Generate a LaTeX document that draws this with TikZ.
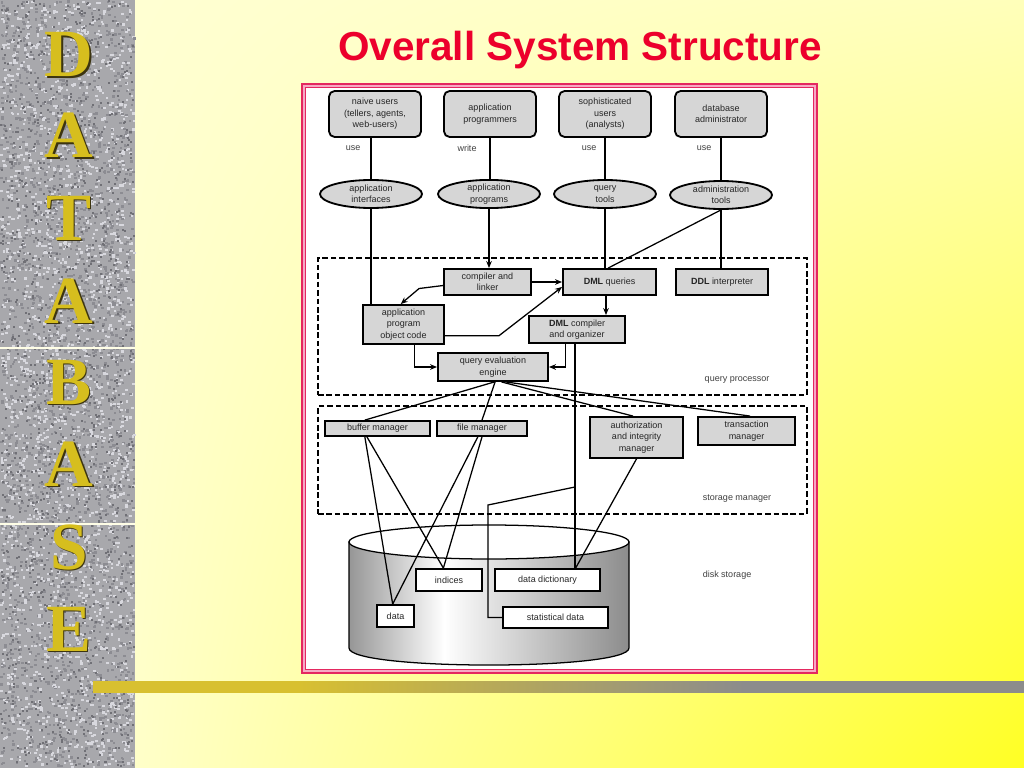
\documentclass[tikz,border=0pt]{standalone}
\usepackage{fontspec}
\setmainfont{Liberation Sans}
\newfontfamily\letterfont{Liberation Serif}
\usetikzlibrary{arrows.meta,shapes.geometric,shadings}

\definecolor{boxgray}{RGB}{214,214,214}
\definecolor{titlered}{RGB}{236,0,44}
\definecolor{framered}{RGB}{228,40,96}
\definecolor{framepink}{RGB}{246,170,196}
\definecolor{lettergold}{RGB}{214,190,30}
\definecolor{lettershade}{RGB}{60,52,16}
\definecolor{granite}{RGB}{168,168,172}
\definecolor{granitedark}{RGB}{112,112,118}
\definecolor{granitemid}{RGB}{140,140,146}
\definecolor{granitelight}{RGB}{216,216,222}
\definecolor{bargold}{RGB}{216,192,48}
\definecolor{bargray}{RGB}{140,140,140}
\definecolor{diskdark}{RGB}{150,150,150}
\definecolor{diskedge}{RGB}{140,140,140}
\definecolor{bgul}{RGB}{255,255,214}
\definecolor{bgur}{RGB}{255,255,186}
\definecolor{bgll}{RGB}{255,255,226}
\definecolor{bglr}{RGB}{255,255,36}

\pgfdeclarehorizontalshading{diskshade}{100bp}{color(0bp)=(diskdark); color(25bp)=(diskdark); color(42bp)=(white); color(75bp)=(diskedge); color(100bp)=(diskedge)}
\pgfdeclarehorizontalshading{barshade}{100bp}{color(0bp)=(bargold); color(36bp)=(bargold); color(60bp)=(bargray); color(100bp)=(bargray)}

\newcommand{\diag}{\fontsize{6.4}{8.2}\selectfont}

\begin{document}
\begin{tikzpicture}[x=0.025cm, y=-0.025cm,
  box/.style={draw, line width=1.3pt, fill=boxgray, align=center,
              font=\diag, text=black!85, inner sep=1pt},
  user/.style={box, rounded corners=4pt},
  tool/.style={box, ellipse, inner sep=0pt},
  store/.style={box, fill=white},
  region/.style={draw, line width=0.9pt, dash pattern=on 4pt off 2pt,
                 minimum width=12.225cm},
  lbl/.style={font=\diag, text=black!75},
  letter/.style={font=\letterfont\fontsize{48}{48}\selectfont\bfseries, anchor=base},
  line/.style={line width=0.9pt},
  arr/.style={line, -{Stealth[length=5pt, width=4pt]}}
]
\useasboundingbox (0,0) rectangle (1024,768);

% Slide background
\shade[upper left=bgul, upper right=bgur, lower left=bgll, lower right=bglr]
  (0,0) rectangle (1024,768);

% Granite strip
\fill[granite] (0,0) rectangle (135,768);
\pgfmathsetseed{11}
\foreach \i in {1,...,2200} {
  \fill[granitemid] ({rnd*133},{rnd*766}) rectangle ++(2.6,2.2);
  \fill[granitelight] ({rnd*133},{rnd*766}) rectangle ++(2.6,2.2);
}
\foreach \i in {1,...,1200} {
  \fill[granitedark] ({rnd*133},{rnd*766}) rectangle ++(2,2);
}
\draw[white!90!yellow, line width=0.8pt] (0,348) -- (135,348);
\draw[white!90!yellow, line width=0.8pt] (0,524) -- (135,524);

\foreach \ch/\yb [count=\i] in {D/77, A/158, T/240, A/323, B/404, A/486, S/569, E/651} {
  \node[letter, text=lettershade] at (70.5,\yb+1.5) (shadow\i) {\ch};
  \node[letter, text=lettergold] at (69,\yb) (letter\i) {\ch};
}

% Bottom bar
\shade[shading=barshade] (93,681) rectangle (1024,692);

% Title
\node[font=\fontsize{28.8}{34}\selectfont\bfseries, text=titlered, anchor=base]
  at (580,61) (title) {Overall System Structure};

% Frame
\filldraw[draw=framered, fill=framepink, line width=1.2pt] (302,84) rectangle (817,673);
\filldraw[draw=framered, fill=white, line width=0.7pt] (305.5,87.5) rectangle (813.5,669.5);

% Users
\node[user, minimum width=2.3cm, minimum height=1.15cm] at (375,114) (naive) {naive users\\(tellers, agents,\\web-users)};
\node[user, minimum width=2.3cm, minimum height=1.15cm] at (490,114) (appprog) {application\\programmers};
\node[user, minimum width=2.3cm, minimum height=1.15cm] at (605,114) (soph) {sophisticated\\users\\(analysts)};
\node[user, minimum width=2.3cm, minimum height=1.15cm] at (721,114) (dba) {database\\administrator};

\node[lbl] at (353,148) (use1) {use};
\node[lbl] at (467,148) (write) {write};
\node[lbl] at (589,148) (use2) {use};
\node[lbl] at (704,148) (use3) {use};

% Tools
\node[tool, minimum width=2.55cm, minimum height=0.7cm] at (371,194) (appif) {application\\interfaces};
\node[tool, minimum width=2.55cm, minimum height=0.7cm] at (489,194) (apprgs) {application\\programs};
\node[tool, minimum width=2.55cm, minimum height=0.7cm] at (605,194) (qtools) {query\\tools};
\node[tool, minimum width=2.55cm, minimum height=0.7cm] at (721,195) (admtools) {administration\\tools};

% Query processor
\node[region, minimum height=3.425cm] at (562.5,326.5) (qpbox) {};
\node[lbl] at (737,380) (qplbl) {query processor};

\node[box, minimum width=2.175cm, minimum height=0.65cm] at (487.5,282) (compiler) {compiler and\\linker};
\node[box, minimum width=2.325cm, minimum height=0.65cm] at (609.5,282) (dmlq) {\textbf{DML} queries};
\node[box, minimum width=2.3cm, minimum height=0.65cm] at (722,282) (ddl) {\textbf{DDL} interpreter};
\node[box, minimum width=2.025cm, minimum height=0.975cm] at (403.5,324.5) (objcode) {application\\program\\object code};
\node[box, minimum width=2.4cm, minimum height=0.675cm] at (577,329.5) (dmlc) {\textbf{DML} compiler\\and organizer};
\node[box, minimum width=2.75cm, minimum height=0.7cm] at (493,367) (qeval) {query evaluation\\engine};

% Storage manager
\node[region, minimum height=2.7cm] at (562.5,460) (smbox) {};
\node[lbl] at (737,499) (smlbl) {storage manager};

\node[box, minimum width=2.625cm, minimum height=0.375cm] at (377.5,428.5) (buffer) {buffer manager};
\node[box, minimum width=2.25cm, minimum height=0.375cm] at (482,428.5) (filemgr) {file manager};
\node[box, minimum width=2.325cm, minimum height=1.025cm] at (636.5,437.5) (authmgr) {authorization\\and integrity\\manager};
\node[box, minimum width=2.425cm, minimum height=0.7cm] at (746.5,431) (transmgr) {transaction\\manager};

% Disk storage
\shadedraw[shading=diskshade, line width=0.9pt] (349,542) -- (349,648)
  .. controls (349,670.7) and (629,670.7) .. (629,648) -- (629,542) -- cycle;
\filldraw[fill=white, line width=0.9pt] (489,542) ellipse [x radius=140, y radius=17];
\node[lbl] at (727,575) (disklbl) {disk storage};

\node[store, minimum width=1.65cm, minimum height=0.55cm] at (449,580) (indices) {indices};
\node[store, minimum width=2.625cm, minimum height=0.55cm] at (547.5,580) (datadict) {data dictionary};
\node[store, minimum width=0.925cm, minimum height=0.55cm] at (395.5,616) (data) {data};
\node[store, minimum width=2.625cm, minimum height=0.525cm] at (555.5,617.5) (statdata) {statistical data};

\coordinate (statjoin) at (575,487);
\coordinate (statbend) at (488,505);

% Users to tools
\draw[line] (naive.south -| appif.north) -- (appif.north);
\draw[line] (appprog.south) -- (appprog.south |- apprgs.north);
\draw[line] (soph.south) -- (qtools.north);
\draw[line] (dba.south) -- (admtools.north);

% Tools to query processor
\draw[line] (appif.south) -- (appif.south |- objcode.north);
\draw[arr]  (apprgs.south) -- (apprgs.south |- compiler.north);
\draw[line] (qtools.south) -- (qtools.south |- dmlq.north);
\draw[line] (admtools.south) -- (admtools.south |- ddl.north);
\draw[line] (admtools.south) -- ([xshift=-1pt]dmlq.north);

% Inside query processor
\draw[arr] ([yshift=-2.5pt]compiler.west) -- ++(-24,3) -- ([xshift=-2pt]objcode.north);
\draw[arr] (compiler.east) -- (dmlq.west);
\draw[arr] ([yshift=-8pt]objcode.east) -- ++(54,0) -- ([yshift=-3.5pt]dmlq.west);
\draw[arr] ([xshift=-2.5pt]dmlq.south) -- ([xshift=-2.5pt]dmlq.south |- dmlc.north);
\draw[arr] ([xshift=8pt]objcode.south) |- (qeval.west);
\draw[arr] ([xshift=-8pt]dmlc.south) |- (qeval.east);

% Query engine to storage manager
\draw[line] ([xshift=1pt]qeval.south) -- ([xshift=-9pt]buffer.north);
\draw[line] ([xshift=1.5pt]qeval.south) -- (filemgr.north);
\draw[line] ([xshift=6pt]qeval.south) -- ([xshift=-2.5pt]authmgr.north);
\draw[line] ([xshift=9pt]qeval.south) -- ([xshift=2.5pt]transmgr.north);

% Storage manager to disk
\draw[line] ([xshift=-9pt]buffer.south) -- ([xshift=-2pt]data.north);
\draw[line] ([xshift=-7.5pt]buffer.south) -- ([xshift=-4pt]indices.north);
\draw[line] ([xshift=-3pt]filemgr.south) -- ([xshift=-2pt]data.north);
\draw[line] (filemgr.south) -- ([xshift=-4pt]indices.north);
\draw[line] ([xshift=-1.5pt]dmlc.south) -- ([xshift=-1.5pt]dmlc.south |- datadict.north);
\draw[line] (authmgr.south) -- ([xshift=20pt]datadict.north);
\draw[line] (statjoin) -- (statbend) |- (statdata.west);

\end{tikzpicture}
\end{document}
